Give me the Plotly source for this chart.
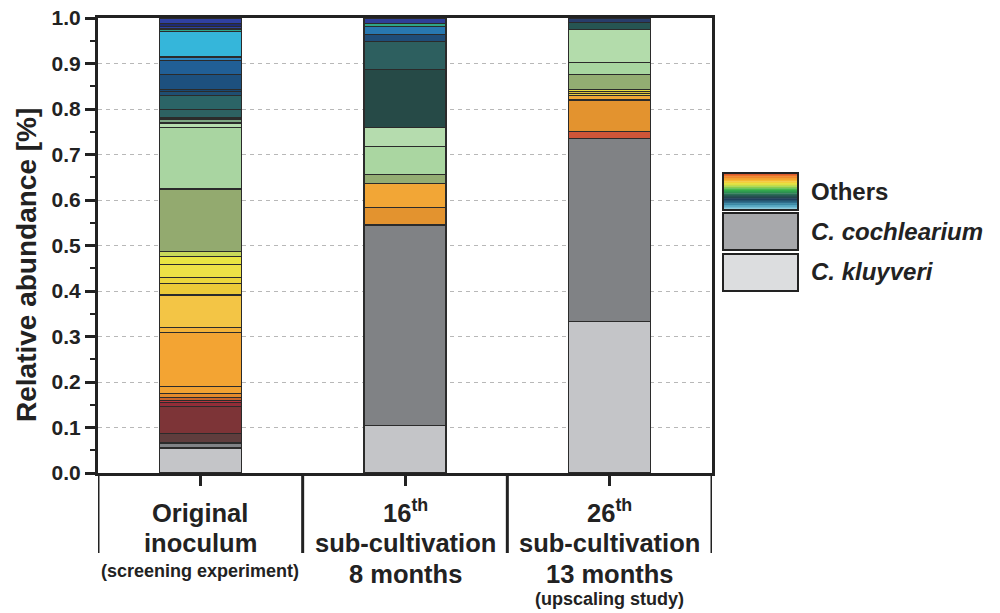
import plotly.graph_objects as go

# ---- data -------------------------------------------------------------
categories = ["Original inoculum", "16th sub-cultivation", "26th sub-cultivation"]

kluyveri = [0.055, 0.105, 0.333]
cochlearium = [0.009, 0.440, 0.402]

# remaining community members, listed bottom -> top for each sample
others_original = [0.003, 0.019, 0.060, 0.009, 0.005, 0.006, 0.008, 0.017, 0.117,
                   0.012, 0.071, 0.026, 0.013, 0.029, 0.016, 0.011, 0.138, 0.136,
                   0.009, 0.002, 0.007, 0.004, 0.017, 0.030, 0.009, 0.004, 0.034,
                   0.030, 0.008, 0.002, 0.054, 0.005, 0.002, 0.005, 0.006, 0.012]
others_16th = [0.039, 0.053, 0.019, 0.061, 0.043, 0.126, 0.063, 0.015, 0.017,
               0.007, 0.012]
others_26th = [0.015, 0.070, 0.009, 0.005, 0.004, 0.005, 0.032, 0.027, 0.073,
               0.015, 0.010]

colors_original = ["#5a4a4a", "#5f3d3d", "#7d3437", "#922d38", "#b8343e", "#c8652c",
                   "#e1892c", "#f0a132", "#f3a433", "#f3b23a", "#f3c545", "#ecca38",
                   "#ecd73c", "#ede246", "#e9e542", "#c9d95a", "#93aa6f", "#a9d5a1",
                   "#b6ddae", "#9cc79a", "#7ea783", "#4a7a70", "#2d6162", "#2b6466",
                   "#1f4e72", "#1b4870", "#1d507e", "#215f96", "#2a86c2", "#2aa0d0",
                   "#35b6da", "#2fa88e", "#3a7aa0", "#2d40a0", "#1f2a72", "#3040a2"]
colors_16th = ["#e3932f", "#f2a636", "#94ad73", "#aad6a1", "#b5dcae", "#264a47",
               "#2d5f5f", "#1f4d78", "#2878b0", "#2fa584", "#2e3f98"]
colors_26th = ["#cf5538", "#e3932f", "#f0a836", "#e8d040", "#dcc23a", "#ece140",
               "#93ad72", "#a8d6a0", "#b3dcab", "#265552", "#283d6a"]

y_ticks = [0.0, 0.1, 0.2, 0.3, 0.4, 0.5, 0.6, 0.7, 0.8, 0.9, 1.0]

tick_main = [["Original", "inoculum"],
             ["16<sup>th</sup>", "sub-cultivation", "8 months"],
             ["26<sup>th</sup>", "sub-cultivation", "13 months"]]
tick_note = ["(screening experiment)", "", "(upscaling study)"]

legend_labels = ["<b>Others</b>", "<b><i>C. cochlearium</i></b>", "<b><i>C. kluyveri</i></b>"]

# ---- styling ----------------------------------------------------------
FONT = "Liberation Sans, Arial, Helvetica, sans-serif"
INK = "#222222"
W, H = 1000, 613
L, R, T, B = 98, 288, 18, 140
PW, PH = W - L - R, H - T - B


def paper_x(px):
    return (px - L) / PW


def paper_y(py):
    return (H - B - py) / PH


fig = go.Figure()
x_pos = list(range(len(categories)))
outline = dict(color="#2b2b2b", width=1.2)
bar_w = 0.4

fig.add_bar(x=x_pos, y=kluyveri, width=bar_w, name="C. kluyveri",
            marker=dict(color="#c4c5c8", line=outline))
fig.add_bar(x=x_pos, y=cochlearium, width=bar_w, name="C. cochlearium",
            marker=dict(color="#808285", line=outline))
for i, (vals, cols) in enumerate([(others_original, colors_original),
                                  (others_16th, colors_16th),
                                  (others_26th, colors_26th)]):
    for v, c in zip(vals, cols):
        fig.add_bar(x=[x_pos[i]], y=[v], width=bar_w, name="Others",
                    marker=dict(color=c, line=outline), showlegend=False)

fig.update_layout(
    width=W, height=H, margin=dict(l=L, r=R, t=T, b=B, autoexpand=False),
    barmode="stack", showlegend=False,
    plot_bgcolor="white", paper_bgcolor="white",
    font=dict(family=FONT, color=INK),
)

fig.update_xaxes(
    range=[-0.5, 2.5], tickvals=x_pos, showticklabels=False, automargin=False,
    ticks="outside", ticklen=10, tickwidth=2.5, tickcolor=INK,
    showline=True, linewidth=3, linecolor=INK, mirror=True,
    showgrid=False, zeroline=False,
)
fig.update_yaxes(
    range=[0, 1], tickvals=y_ticks, automargin=False,
    ticktext=[f"<b>{v:.1f}</b>" for v in y_ticks],
    tickfont=dict(size=21, family=FONT, color=INK),
    ticks="outside", ticklen=10, tickwidth=2.5, tickcolor=INK,
    showline=True, linewidth=3, linecolor=INK, mirror=True,
    showgrid=True, gridcolor="#b8b8b8", gridwidth=1, griddash="4px,4px",
    zeroline=False,
    minor=dict(dtick=0.05, tick0=0, ticks="outside", ticklen=5, tickwidth=2,
               tickcolor=INK, showgrid=False),
)

shapes = []
annotations = []

# group separators below the category axis
for xb in [-0.5, 0.5, 1.5, 2.5]:
    shapes.append(dict(type="line", xref="x", yref="paper", x0=xb, x1=xb,
                       y0=0, y1=paper_y(553), line=dict(color=INK, width=3)))

# y-axis title
annotations.append(dict(text="<b>Relative abundance [%]</b>", textangle=-90,
                        xref="paper", yref="paper", x=paper_x(26), y=paper_y(265),
                        xanchor="center", yanchor="middle", showarrow=False,
                        font=dict(size=28, family=FONT, color=INK)))

# category labels, one annotation per line (baseline pixel positions)
main_baselines = [522, 552, 583]
note_baselines = [577, None, 605]
big, small = 25.5, 18
for i, lines in enumerate(tick_main):
    for j, txt in enumerate(lines):
        base = main_baselines[j]
        annotations.append(dict(text=f"<b>{txt}</b>", xref="x", yref="paper",
                                x=x_pos[i], y=paper_y(base + 0.21 * big + 2),
                                xanchor="center", yanchor="bottom", showarrow=False,
                                font=dict(size=big, family=FONT, color=INK)))
    if tick_note[i]:
        base = note_baselines[i]
        annotations.append(dict(text=f"<b>{tick_note[i]}</b>", xref="x", yref="paper",
                                x=x_pos[i], y=paper_y(base + 0.21 * small + 2),
                                xanchor="center", yanchor="bottom", showarrow=False,
                                font=dict(size=small, family=FONT, color=INK)))

# legend swatches drawn as boxes to the right of the plot
sw_x0, sw_x1 = paper_x(723), paper_x(798)
gradient = ["#d9542b", "#e8702c", "#ef8a2c", "#f3a030", "#f5b833", "#f2d03a",
            "#e6e244", "#c2dc48", "#8ccc4a", "#52bc4c", "#34a84e", "#2c9050",
            "#2a7454", "#285c54", "#24474e", "#1f3f5c", "#24546e", "#2e6e8c",
            "#3c8aa6", "#55a6c0", "#74bcd2", "#8ccbdc"]
g_top, g_bot = 173, 210
step = (g_bot - g_top) / len(gradient)
for k, col in enumerate(gradient):
    shapes.append(dict(type="rect", xref="paper", yref="paper", x0=sw_x0, x1=sw_x1,
                       y0=paper_y(g_top + (k + 1) * step + 0.4), y1=paper_y(g_top + k * step),
                       fillcolor=col, line=dict(width=0), layer="above"))
boxes = [(173, 210, None), (213, 250, "#a7a8ab"), (254, 291, "#dcdddf")]
for top, bot, fill in boxes:
    shapes.append(dict(type="rect", xref="paper", yref="paper", x0=sw_x0, x1=sw_x1,
                       y0=paper_y(bot), y1=paper_y(top),
                       fillcolor=fill if fill else "rgba(0,0,0,0)",
                       line=dict(color=INK, width=2), layer="above"))
legend_baselines = [200, 240, 280]
for txt, base in zip(legend_labels, legend_baselines):
    annotations.append(dict(text=txt, xref="paper", yref="paper",
                            x=paper_x(809), y=paper_y(base + 0.21 * 24 + 2),
                            xanchor="left", yanchor="bottom", showarrow=False,
                            font=dict(size=24, family=FONT, color=INK)))

fig.update_layout(shapes=shapes, annotations=annotations)
fig.write_html("out.html")
